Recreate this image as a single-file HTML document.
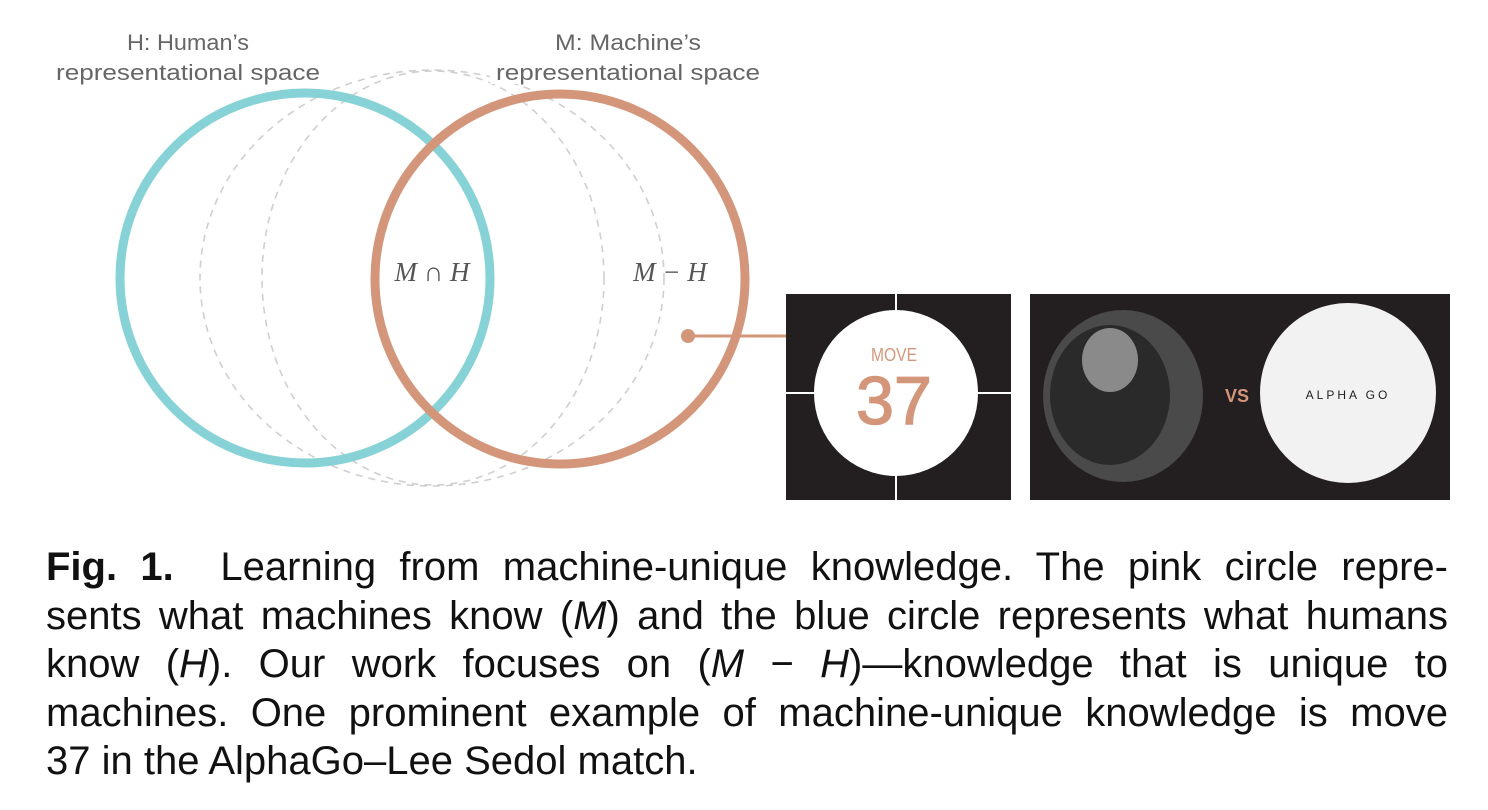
<!DOCTYPE html>
<html><head><style>
html,body{margin:0;padding:0;background:#fff;width:1488px;height:810px;overflow:hidden;}
.cap{position:absolute;left:46px;top:543px;width:1402px;font-family:"Liberation Sans",sans-serif;font-size:40px;line-height:48.5px;color:#111;}
.cap div{text-align:justify;text-align-last:justify;white-space:nowrap;}
.cap div.l{text-align-last:left;}
</style></head><body>
<svg width="1488" height="530" style="position:absolute;left:0;top:0" xmlns="http://www.w3.org/2000/svg">
<g fill="none" stroke="#cfcfcf" stroke-width="1.6" stroke-dasharray="7 6">
<ellipse cx="433" cy="278" rx="171" ry="207"/>
<ellipse cx="432" cy="278" rx="232" ry="208"/>
</g>
<rect x="50" y="58" width="275" height="26" fill="#fff"/>
<rect x="490" y="58" width="275" height="26" fill="#fff"/>
<ellipse cx="305" cy="278" rx="185" ry="185" fill="none" stroke="#86d2d6" stroke-width="9"/>
<ellipse cx="560" cy="279" rx="185" ry="185" fill="none" stroke="#d4967a" stroke-width="9"/>
<g font-family="Liberation Sans,sans-serif" font-size="22" fill="#666" text-anchor="middle">
<text x="188" y="50" textLength="122" lengthAdjust="spacingAndGlyphs">H: Human’s</text>
<text x="188" y="80" textLength="264" lengthAdjust="spacingAndGlyphs">representational space</text>
<text x="628" y="50" textLength="146" lengthAdjust="spacingAndGlyphs">M: Machine’s</text>
<text x="628" y="80" textLength="264" lengthAdjust="spacingAndGlyphs">representational space</text>
</g>
<g font-family="Liberation Serif,serif" font-style="italic" font-size="27" fill="#555" text-anchor="middle">
<text x="432" y="281">M ∩ H</text>
<text x="670" y="281">M − H</text>
</g>
<line x1="688" y1="336" x2="786" y2="336" stroke="#d4967a" stroke-width="3"/>
<circle cx="688" cy="336" r="7" fill="#d4967a"/>
<rect x="786" y="294" width="225" height="206" fill="#231f20"/>
<line x1="896" y1="294" x2="896" y2="500" stroke="#fff" stroke-width="2"/>
<line x1="786" y1="393" x2="1011" y2="393" stroke="#fff" stroke-width="2"/>
<ellipse cx="896" cy="393" rx="82" ry="83" fill="#fff"/>
<text x="894" y="361" font-family="Liberation Sans,sans-serif" font-size="18" fill="#d4967a" text-anchor="middle" textLength="46" lengthAdjust="spacingAndGlyphs">MOVE</text>
<text x="894" y="424" font-family="Liberation Sans,sans-serif" font-size="68" fill="#d4967a" text-anchor="middle" stroke="#d4967a" stroke-width="1.5">37</text>
<rect x="1030" y="294" width="420" height="206" fill="#231f20"/>
<ellipse cx="1123" cy="396" rx="80" ry="86" fill="#4a4a4a"/>
<ellipse cx="1110" cy="395" rx="60" ry="70" fill="#2a2a2a"/>
<ellipse cx="1110" cy="360" rx="28" ry="32" fill="#8a8a8a"/>
<text x="1237" y="402" font-family="Liberation Sans,sans-serif" font-size="18" font-weight="bold" fill="#d4967a" text-anchor="middle">VS</text>
<ellipse cx="1348" cy="393" rx="88" ry="90" fill="#f2f2f2"/>
<text x="1348" y="399" font-family="Liberation Sans,sans-serif" font-size="12" letter-spacing="3" fill="#222" text-anchor="middle">ALPHA GO</text>
</svg>
<div class="cap">
<div><b>Fig. 1.</b>&nbsp; Learning from machine-unique knowledge. The pink circle repre-</div>
<div>sents what machines know (<i>M</i>) and the blue circle represents what humans</div>
<div>know (<i>H</i>). Our work focuses on (<i>M</i> − <i>H</i>)—knowledge that is unique to</div>
<div>machines. One prominent example of machine-unique knowledge is move</div>
<div class="l">37 in the AlphaGo–Lee Sedol match.</div>
</div>
</body></html>
